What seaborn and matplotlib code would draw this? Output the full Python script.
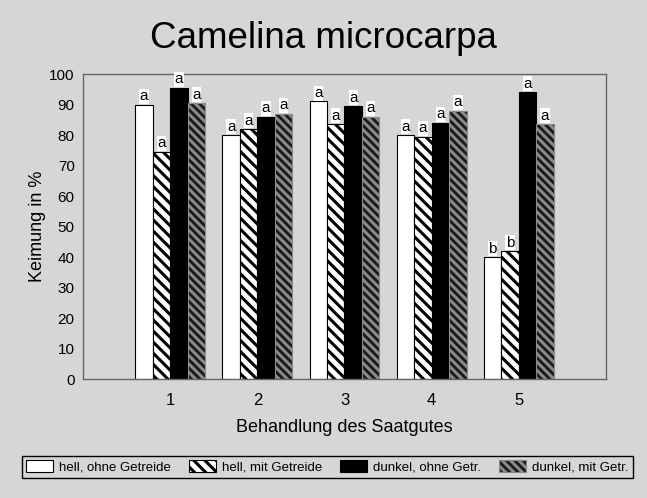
import pandas as pd
import matplotlib.pyplot as plt
import seaborn as sns

# data
behandlung = ["1", "2", "3", "4", "5"]
serien = ["hell, ohne Getreide", "hell, mit Getreide", "dunkel, ohne Getr.", "dunkel, mit Getr."]
hell_ohne = [90, 80, 91, 80, 40]
hell_mit = [74.5, 82, 83.5, 79.5, 42]
dunkel_ohne = [95.5, 86, 89.5, 84, 94]
dunkel_mit = [90.5, 87, 86, 88, 83.5]
buchstaben = [
    ["a", "a", "a", "a", "b"],
    ["a", "a", "a", "a", "b"],
    ["a", "a", "a", "a", "a"],
    ["a", "a", "a", "a", "a"],
]

rows = []
for name, vals in zip(serien, [hell_ohne, hell_mit, dunkel_ohne, dunkel_mit]):
    for b, v in zip(behandlung, vals):
        rows.append({"Behandlung": b, "Serie": name, "Keimung": v})
df = pd.DataFrame(rows)

sns.set_style("white")
plt.rcParams["font.family"] = ["Liberation Sans", "DejaVu Sans"]
plt.rcParams["hatch.linewidth"] = 2.2
plt.rcParams["text.color"] = "black"
plt.rcParams["axes.labelcolor"] = "black"
plt.rcParams["xtick.labelcolor"] = "black"
plt.rcParams["ytick.labelcolor"] = "black"

bg = "#d6d6d6"
fig = plt.figure(figsize=(6.47, 4.98), dpi=100, facecolor=bg)
ax = fig.add_axes([83 / 647, 1 - 379 / 498, 523 / 647, 305 / 498])
ax.set_facecolor(bg)

sns.barplot(
    data=df, x="Behandlung", y="Keimung", hue="Serie",
    palette=["white", "white", "black", "#2a2a2a"],
    width=0.8, ax=ax, legend=False, errorbar=None,
)

styles = [
    dict(facecolor="white", edgecolor="black", hatch=None),
    dict(facecolor="white", edgecolor="black", hatch="\\\\\\"),
    dict(facecolor="black", edgecolor="black", hatch=None),
    dict(facecolor="#1a1a1a", edgecolor="#8a8a8a", hatch="\\\\\\\\"),
]
for cont, st, lab in zip(ax.containers, styles, buchstaben):
    for p in cont.patches:
        p.set_facecolor(st["facecolor"])
        p.set_edgecolor(st["edgecolor"])
        p.set_linewidth(0.8)
        if st["hatch"]:
            p.set_hatch(st["hatch"])
    ax.bar_label(cont, labels=lab, padding=1, fontsize=11,
                 bbox=dict(facecolor="white", edgecolor="none", pad=0.3))

ax.set_xlim(-1, 5)
ax.set_ylim(0, 100)
ax.set_yticks(range(0, 101, 10))
ax.set_xticks([0.5, 1.5, 2.5, 3.5], minor=True)
ax.tick_params(axis="x", which="major", length=0, labelsize=12, pad=10)
ax.tick_params(axis="x", which="minor", length=4, direction="out", color="#333333")
ax.tick_params(axis="y", length=4, direction="out", labelsize=11, pad=2, color="#333333")
for s in ax.spines.values():
    s.set_visible(True)
    s.set_color("#666666")
    s.set_linewidth(1.0)

ax.set_xlabel("Behandlung des Saatgutes", fontsize=13, labelpad=8)
ax.set_ylabel("Keimung in %", fontsize=13, labelpad=2)

fig.text(0.5, 1 - 38 / 498, "Camelina microcarpa", fontsize=26.5,
         ha="center", va="center")

fig.legend(
    handles=ax.containers, labels=serien, ncol=4,
    loc="lower left", bbox_to_anchor=(15 / 647, 13 / 498, 625 / 647, 26 / 498),
    mode="expand", fontsize=9.5, frameon=True, fancybox=False,
    edgecolor="black", facecolor=bg, framealpha=1,
    handlelength=2.0, handleheight=1.0, handletextpad=0.5,
    borderpad=0.35, columnspacing=0.8,
)

plt.savefig("out.png", dpi=100, facecolor=bg)
